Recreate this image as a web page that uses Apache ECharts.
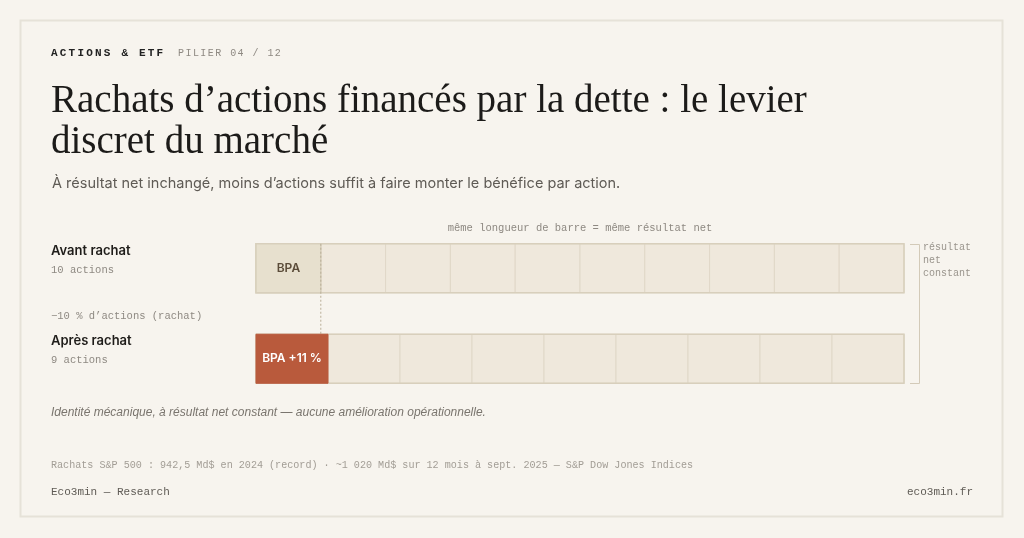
<!DOCTYPE html>
<html>
<head>
<meta charset="utf-8">
<script src="https://cdn.jsdelivr.net/npm/echarts@6/dist/echarts.min.js"></script>
<style>
html,body{margin:0;padding:0;background:#f7f4ee;}
#c{width:1024px;height:538px;}
</style>
</head>
<body>
<div id="c"></div>
<script>
// ---- data ----
const categories = ['Avant rachat', 'Après rachat'];
const shareCounts = [10, 9];
const shareLabels = ['10 actions', '9 actions'];
const netResult = [100, 100];           // même résultat net = même longueur de barre
const epsLabels = ['BPA', 'BPA +11 %'];
const buybackNote = '−10 % d’actions (rachat)';

const BAR_H = 49;
const MONO = 'Liberation Mono';
const SANS = 'Inter';

// cells: one per share
const cellData = [];
categories.forEach((c, r) => {
  const n = shareCounts[r];
  for (let k = 0; k < n; k++) {
    cellData.push([k * netResult[r] / n, (k + 1) * netResult[r] / n, r, k]);
  }
});
const frameData = categories.map((c, r) => [0, netResult[r], r]);
const epsData = categories.map((c, r) => [0, netResult[r] / shareCounts[r], r]);

const chart = echarts.init(document.getElementById('c'), null, {renderer: 'canvas'});

const option = {
  backgroundColor: '#f7f4ee',
  animation: false,
  grid: {left: 256, width: 648, top: 223, height: 181},
  xAxis: {type: 'value', min: 0, max: 100, show: false},
  yAxis: {
    type: 'category', data: categories, inverse: true,
    axisLine: {show: false}, axisTick: {show: false}, splitLine: {show: false},
    axisLabel: {
      align: 'left', margin: 205, padding: [0, 0, 16, 0],
      formatter: (v, i) => `{a|${v}}\n{b|${shareLabels[i]}}`,
      rich: {
        a: {fontFamily: SANS, fontWeight: 600, fontSize: 13, color: '#1f1d1a', lineHeight: 19},
        b: {fontFamily: MONO, fontSize: 10.5, color: '#8e8982', lineHeight: 19}
      }
    }
  },
  series: [
    {
      type: 'custom', z: 1, data: cellData, encode: {x: [0, 1], y: 2},
      renderItem: (params, api) => {
        const a = api.coord([api.value(0), api.value(2)]);
        const b = api.coord([api.value(1), api.value(2)]);
        return {
          type: 'rect',
          shape: {x: a[0], y: a[1] - BAR_H / 2, width: b[0] - a[0], height: BAR_H},
          style: {fill: '#efe8dc', stroke: '#e0d8c8', lineWidth: 1}
        };
      }
    },
    {
      type: 'custom', z: 3, data: frameData, encode: {x: [0, 1], y: 2},
      renderItem: (params, api) => {
        const a = api.coord([api.value(0), api.value(2)]);
        const b = api.coord([api.value(1), api.value(2)]);
        return {
          type: 'rect',
          shape: {x: a[0], y: a[1] - BAR_H / 2, width: b[0] - a[0], height: BAR_H},
          style: {fill: 'none', stroke: '#d8cfbc', lineWidth: 1.5}
        };
      }
    },
    {
      type: 'custom', z: 4, data: epsData, encode: {x: [0, 1], y: 2},
      renderItem: (params, api) => {
        const row = api.value(2);
        const a = api.coord([api.value(0), row]);
        const b = api.coord([api.value(1), row]);
        const y = a[1] - BAR_H / 2;
        const first = row === 0;
        const children = [{
          type: 'rect',
          shape: {x: a[0], y: y, width: b[0] - a[0], height: BAR_H},
          style: {
            fill: first ? '#e7e0ce' : '#b95a3c',
            stroke: first ? '#d8cfbc' : '#b95a3c', lineWidth: first ? 1.5 : 1
          },
          textContent: {
            style: {text: epsLabels[row], fill: first ? '#5b4c39' : '#ffffff',
                    font: `600 12px ${SANS}`}
          },
          textConfig: {position: 'inside'}
        }];
        if (first && row + 1 < categories.length) {
          const nextTop = api.coord([api.value(1), row + 1])[1] - BAR_H / 2;
          children.push({
            type: 'line',
            shape: {x1: b[0], y1: y, x2: b[0], y2: nextTop},
            style: {stroke: '#b9ae97', lineWidth: 1, lineDash: [2, 2]}
          });
        }
        return {type: 'group', children: children};
      }
    }
  ],
  graphic: [
    {type: 'rect', z: -10, shape: {x: 20.5, y: 20.5, width: 982, height: 496},
     style: {fill: '#f7f4ee', stroke: '#e6e2d8', lineWidth: 2}},
    {type: 'text', zlevel: 10, x: 51, y: 53, style: {text: 'ACTIONS & ETF', font: `bold 11px ${MONO}`, fill: '#222', verticalAlign: 'middle'}},
    {type: 'text', zlevel: 11, x: 178, y: 53, style: {text: 'PILIER 04 / 12', font: `10px ${MONO}`, fill: '#8e8982', verticalAlign: 'middle'}},
    {type: 'text', x: 51, y: 81.5, style: {text: 'Rachats d’actions financés par la dette : le levier\ndiscret du marché',
      font: `39px 'Liberation Serif'`, fill: '#1c1b19', lineHeight: 41, verticalAlign: 'top'}},
    {type: 'text', x: 52, y: 184, style: {text: 'À résultat net inchangé, moins d’actions suffit à faire monter le bénéfice par action.',
      font: `14.5px ${SANS}`, fill: '#5f5b55', verticalAlign: 'middle'}},
    {type: 'text', x: 580, y: 228, style: {text: 'même longueur de barre = même résultat net',
      font: `10.5px ${MONO}`, fill: '#8e8982', align: 'center', verticalAlign: 'middle'}},
    {type: 'text', x: 51, y: 316, style: {text: buybackNote, font: `10.5px ${MONO}`, fill: '#8e8982', verticalAlign: 'middle'}},
    {type: 'polyline', shape: {points: [[910, 244.5], [919.5, 244.5], [919.5, 383.5], [910, 383.5]]},
     style: {stroke: '#d3cab8', lineWidth: 1, fill: 'none'}},
    {type: 'text', x: 923, y: 241, style: {text: 'résultat\nnet\nconstant', font: `10px ${MONO}`, fill: '#9a958d', lineHeight: 13, verticalAlign: 'top'}},
    {type: 'text', x: 51, y: 413, style: {text: 'Identité mécanique, à résultat net constant — aucune amélioration opérationnelle.',
      font: `italic 12px 'Liberation Sans'`, fill: '#7a756e', verticalAlign: 'middle'}},
    {type: 'text', x: 51, y: 465, style: {text: 'Rachats S&P 500 : 942,5 Md$ en 2024 (record) · ~1 020 Md$ sur 12 mois à sept. 2025 — S&P Dow Jones Indices',
      font: `10.1px ${MONO}`, fill: '#a29d95', verticalAlign: 'middle'}},
    {type: 'text', x: 51, y: 492, style: {text: 'Eco3min — Research', font: `11px ${MONO}`, fill: '#5f5b55', verticalAlign: 'middle'}},
    {type: 'text', x: 973, y: 492, style: {text: 'eco3min.fr', font: `11px ${MONO}`, fill: '#5f5b55', align: 'right', verticalAlign: 'middle'}}
  ]
};
chart.setOption(option);

// letter-spacing for the kicker line (own canvas layers)
try {
  const painter = chart.getZr().painter;
  const l1 = painter.getLayer(10), l2 = painter.getLayer(11);
  if (l1 && l1.ctx && 'letterSpacing' in l1.ctx) {
    l1.ctx.letterSpacing = '2.2px';
    l2.ctx.letterSpacing = '1.45px';
    painter.refresh(true);
  }
} catch (e) {}
</script>
</body>
</html>
